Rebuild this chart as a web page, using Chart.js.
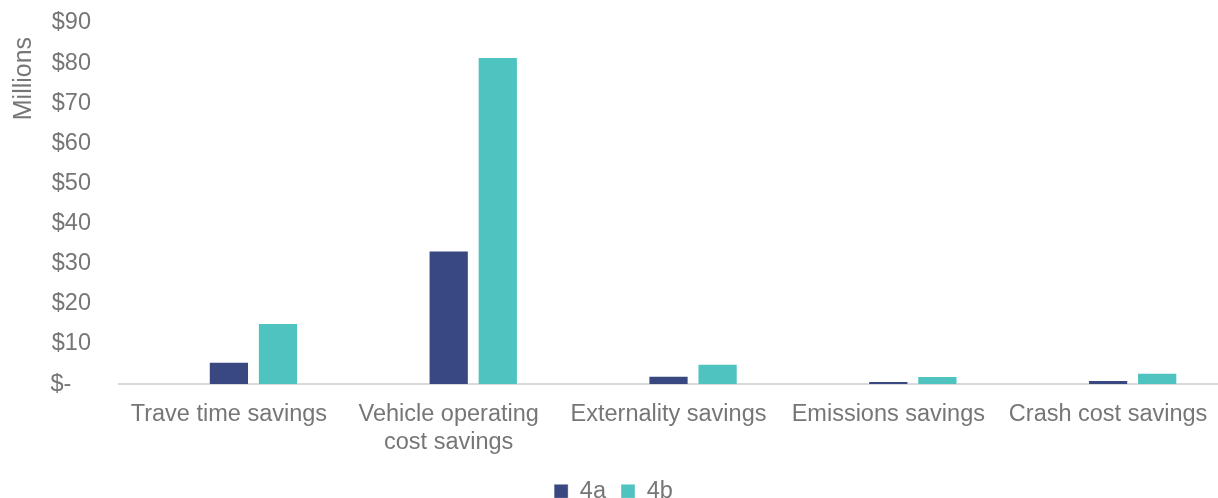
<!DOCTYPE html>
<html>
<head>
<meta charset="utf-8">
<script src="https://cdn.jsdelivr.net/npm/chart.js@4.4.1/dist/chart.umd.min.js"></script>
<style>
    html, body { margin: 0; padding: 0; background: #fff; }
    #wrap { width: 1218px; height: 498px; position: relative; }
</style>
</head>
<body>
<div id="wrap"><canvas id="chart-savings"></canvas></div>
<script>
// Dados (milhões de dólares)
const categorias = [
    'Trave time savings',
    ['Vehicle operating', 'cost savings'],
    'Externality savings',
    'Emissions savings',
    'Crash cost savings'
];
const serieVazia = [null, null, null, null, null]; // série sem valores, só ocupa espaço no grupo
const serie4a = [5.6, 33.3, 2.1, 0.8, 1.0];
const serie4b = [15.2, 81.5, 5.1, 2.0, 2.8];
const ticksY = [0, 10, 20, 30, 40, 50, 60, 70, 80, 90];

const FONTE = 'Arial, "Liberation Sans", sans-serif';
const CINZA = '#767676';

const ctx = document.getElementById('chart-savings').getContext('2d');
const savingsChart = new Chart(ctx, {
    type: 'bar',
    data: {
        labels: categorias,
        datasets: [
            { label: '', data: serieVazia, backgroundColor: 'rgba(0,0,0,0)' },
            { label: '4a', data: serie4a, backgroundColor: '#3A4882', borderColor: 'rgba(255,255,255,0.4)', borderWidth: 1 },
            { label: '4b', data: serie4b, backgroundColor: '#4FC3C0', borderColor: 'rgba(255,255,255,0.4)', borderWidth: 1 }
        ]
    },
    options: {
        responsive: true,
        maintainAspectRatio: false,
        animation: false,
        categoryPercentage: 0.67,
        barPercentage: 0.82,
        layout: { padding: { top: 0, right: 0, left: 9, bottom: -15 } },
        plugins: {
            tooltip: { enabled: false },
            legend: {
                position: 'bottom',
                labels: {
                    color: CINZA,
                    font: { family: FONTE, size: 23.5 },
                    boxWidth: 14,
                    boxHeight: 14,
                    padding: 15,
                    filter: item => item.text !== ''
                }
            }
        },
        scales: {
            x: {
                grid: { display: false },
                border: { display: true, color: '#D9D9D9', width: 2 },
                ticks: {
                    color: CINZA,
                    font: { family: FONTE, size: 23.5, lineHeight: 1.2 },
                    padding: 8,
                    maxRotation: 0,
                    autoSkip: false
                }
            },
            y: {
                min: 0,
                max: 90,
                grid: { display: false },
                border: { display: false },
                afterFit: scale => {
                    scale.width = 110;
                    scale.paddingTop = 23; // topo do eixo alinhado ao rótulo $90
                },
                afterBuildTicks: scale => { scale.ticks = ticksY.map(v => ({ value: v })); },
                ticks: {
                    color: CINZA,
                    font: { family: FONTE, size: 23.5 },
                    padding: 20,
                    callback: v => v === 0 ? '$-   ' : '$' + v
                },
                title: {
                    display: true,
                    text: 'Millions  ',
                    align: 'end',
                    color: CINZA,
                    font: { family: FONTE, size: 25 },
                    padding: 0
                }
            }
        }
    }
});
</script>
</body>
</html>
